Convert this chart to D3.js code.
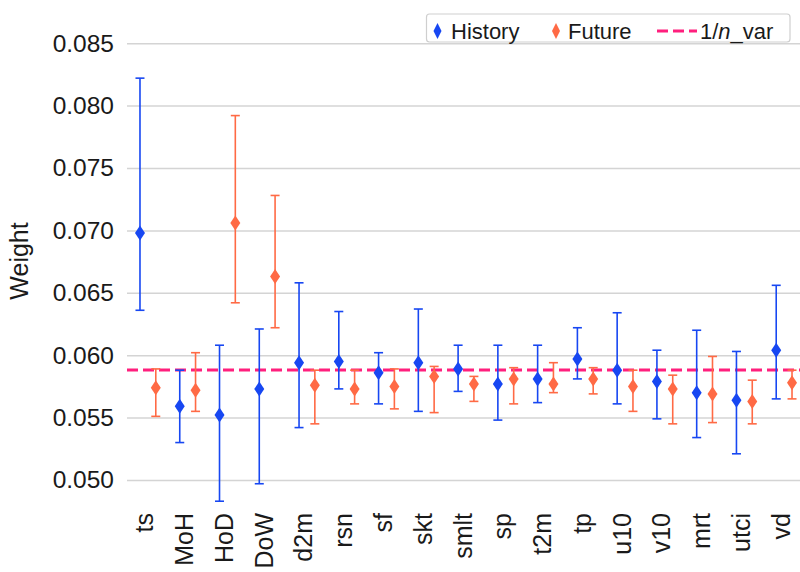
<!DOCTYPE html>
<html>
<head>
<meta charset="utf-8">
<script src="https://cdn.jsdelivr.net/npm/d3@7"></script>
<style>
  body { margin: 0; background: #fff; }
  text { font-family: "Liberation Sans", Arial, sans-serif; fill: #1a1a1a; }
</style>
</head>
<body>
<div id="chart"></div>
<script>
// variables on the x axis
let categories = ["ts", "MoH", "HoD", "DoW", "d2m", "rsn", "sf", "skt", "smlt",
                  "sp", "t2m", "tp", "u10", "v10", "mrt", "utci", "vd"];

// History weights: mean, lower and upper whisker
let histMean = [0.0698, 0.0559, 0.0552, 0.0573, 0.0594, 0.0595, 0.0586, 0.0594, 0.0589,
                0.0577, 0.0581, 0.0597, 0.0588, 0.0579, 0.0570, 0.0564, 0.0604];
let histLow  = [0.0636, 0.0530, 0.0483, 0.0497, 0.0542, 0.0573, 0.0561, 0.0555, 0.0571,
                0.0548, 0.0562, 0.0581, 0.0561, 0.0549, 0.0534, 0.0521, 0.0565];
let histHigh = [0.0822, 0.0588, 0.0608, 0.0621, 0.0658, 0.0635, 0.0602, 0.0637, 0.0608,
                0.0608, 0.0608, 0.0622, 0.0634, 0.0604, 0.0620, 0.0603, 0.0656];

// Future weights
let futMean = [0.0574, 0.0572, 0.0706, 0.0663, 0.0576, 0.0573, 0.0575, 0.0583, 0.0577,
               0.0581, 0.0577, 0.0581, 0.0575, 0.0573, 0.0569, 0.0563, 0.0578];
let futLow  = [0.0551, 0.0555, 0.0642, 0.0622, 0.0545, 0.0561, 0.0557, 0.0554, 0.0563,
               0.0561, 0.0570, 0.0569, 0.0555, 0.0545, 0.0546, 0.0545, 0.0565];
let futHigh = [0.0589, 0.0602, 0.0792, 0.0728, 0.0588, 0.0588, 0.0589, 0.0591, 0.0583,
               0.0590, 0.0594, 0.0590, 0.0588, 0.0584, 0.0599, 0.0580, 0.0588];

let yTicks = [0.050, 0.055, 0.060, 0.065, 0.070, 0.075, 0.080, 0.085];
let refValue = 1 / categories.length;   // 1/n_var

let W = 800, H = 572;
let blue = "#1747f2", orange = "#ff6a45", pink = "#ff1f7d";

let svg = d3.select("#chart").append("svg")
    .attr("width", W)
    .attr("height", H);

let x = d3.scaleBand()
    .domain(categories)
    .range([128, 804]);

let y = d3.scaleLinear()
    .domain([0.05, 0.085])
    .range([480, 43.2]);

let offset = 7.9;

// gridlines + tick labels
let yAxis = d3.axisLeft(y)
    .tickValues(yTicks)
    .tickFormat(d3.format(".3f"))
    .tickSize(-(W - 127))
    .tickPadding(13);

let gy = svg.append("g")
    .attr("transform", "translate(127,0)")
    .call(yAxis);
gy.select(".domain").remove();
gy.selectAll(".tick line").attr("stroke", "#d4d4d4").attr("stroke-width", 1.5);
gy.selectAll(".tick text")
    .attr("font-size", 24.5)
    .attr("font-family", "Liberation Sans, Arial, sans-serif")
    .attr("fill", "#1a1a1a");

svg.append("text")
    .attr("transform", "translate(28,261) rotate(-90)")
    .attr("text-anchor", "middle")
    .attr("font-size", 25)
    .text("Weight");

// x labels
svg.append("g").selectAll("text")
    .data(categories)
    .enter()
    .append("text")
    .attr("transform", d => "translate(" + (x(d) + x.bandwidth() / 2 + 5.5) + ",513) rotate(-90)")
    .attr("text-anchor", "end")
    .attr("font-size", 25)
    .text(d => d);

// reference line
svg.append("line")
    .attr("x1", 127).attr("x2", W)
    .attr("y1", y(refValue)).attr("y2", y(refValue))
    .attr("stroke", pink)
    .attr("stroke-width", 3)
    .attr("stroke-dasharray", "11,5");

function diamond(w, h) {
    return "M0," + (-h / 2) + " L" + (w / 2) + ",0 L0," + (h / 2) + " L" + (-w / 2) + ",0 Z";
}

function drawSeries(mean, low, high, dx, color) {
    let rows = categories.map((c, i) => ({c: c, m: mean[i], lo: low[i], hi: high[i]}));
    let g = svg.append("g")
        .selectAll("g")
        .data(rows)
        .enter()
        .append("g")
        .attr("transform", d => "translate(" + (x(d.c) + x.bandwidth() / 2 + dx) + ",0)");

    g.append("line")
        .attr("y1", d => y(d.lo)).attr("y2", d => y(d.hi))
        .attr("stroke", color).attr("stroke-width", 1.6);
    g.append("line")
        .attr("x1", -4.5).attr("x2", 4.5)
        .attr("y1", d => y(d.lo)).attr("y2", d => y(d.lo))
        .attr("stroke", color).attr("stroke-width", 1.6);
    g.append("line")
        .attr("x1", -4.5).attr("x2", 4.5)
        .attr("y1", d => y(d.hi)).attr("y2", d => y(d.hi))
        .attr("stroke", color).attr("stroke-width", 1.6);
    g.append("path")
        .attr("d", diamond(10, 15))
        .attr("transform", d => "translate(0," + y(d.m) + ")")
        .attr("fill", color);
}

drawSeries(histMean, histLow, histHigh, -offset, blue);
drawSeries(futMean, futLow, futHigh, offset, orange);

// legend
let legend = svg.append("g");
legend.append("rect")
    .attr("x", 426.5).attr("y", 14)
    .attr("width", 363.5).attr("height", 28)
    .attr("rx", 3)
    .attr("fill", "#fff")
    .attr("stroke", "#cfcfcf")
    .attr("stroke-width", 1.2);

legend.append("path").attr("d", diamond(8, 16))
    .attr("transform", "translate(437.5,31)").attr("fill", blue);
legend.append("text").attr("x", 451).attr("y", 38.5)
    .attr("font-size", 22).text("History");

legend.append("path").attr("d", diamond(8, 16))
    .attr("transform", "translate(556,31)").attr("fill", orange);
legend.append("text").attr("x", 568).attr("y", 38.5)
    .attr("font-size", 22).text("Future");

legend.append("line")
    .attr("x1", 657).attr("x2", 697)
    .attr("y1", 31).attr("y2", 31)
    .attr("stroke", pink).attr("stroke-width", 3)
    .attr("stroke-dasharray", "11,5");
let lt = legend.append("text").attr("x", 700).attr("y", 38.5)
    .attr("font-size", 22);
lt.append("tspan").text("1/");
lt.append("tspan").attr("font-style", "italic").text("n");
lt.append("tspan").text("_var");
</script>
</body>
</html>
